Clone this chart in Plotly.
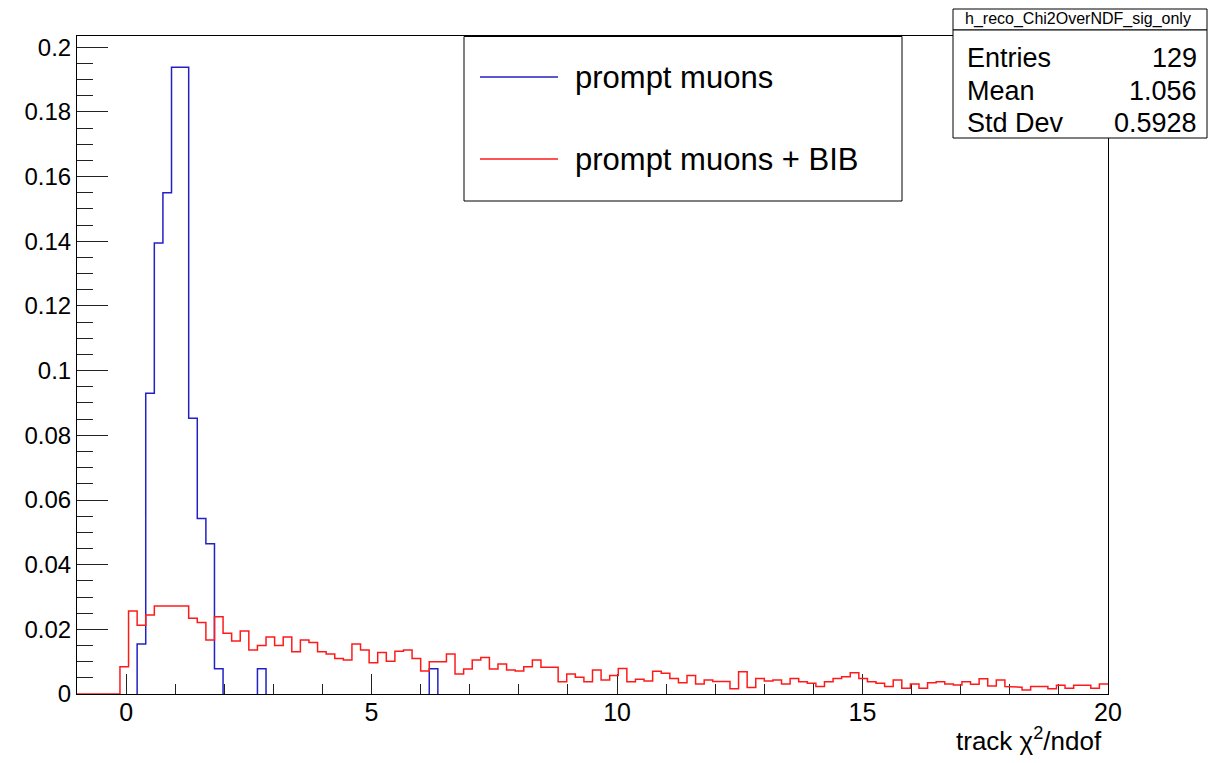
import numpy as np
import plotly.graph_objects as go

# ---------------- data ----------------
x_min, x_max, n_bins = -1.0, 20.0, 120

# prompt muons (normalised), 120 bins from -1 to 20
blue_vals = [
    0, 0, 0, 0, 0, 0, 0, 0.0155, 0.0930, 0.1395,
    0.1550, 0.1938, 0.1938, 0.0853, 0.0543, 0.0465, 0.0078, 0, 0, 0,
    0, 0.0078, 0, 0, 0, 0, 0, 0, 0, 0,
    0, 0, 0, 0, 0, 0, 0, 0, 0, 0,
    0, 0.0078, 0, 0, 0, 0, 0, 0, 0, 0,
    0, 0, 0, 0, 0, 0, 0, 0, 0, 0,
    0, 0, 0, 0, 0, 0, 0, 0, 0, 0,
    0, 0, 0, 0, 0, 0, 0, 0, 0, 0,
    0, 0, 0, 0, 0, 0, 0, 0, 0, 0,
    0, 0, 0, 0, 0, 0, 0, 0, 0, 0,
    0, 0, 0, 0, 0, 0, 0, 0, 0, 0,
    0, 0, 0, 0, 0, 0, 0, 0, 0, 0,
]

# prompt muons + BIB (normalised), 120 bins from -1 to 20
red_vals = [
    0, 0, 0, 0, 0, 0.0084, 0.0257, 0.0213, 0.0244, 0.0272,
    0.0272, 0.0272, 0.0272, 0.0234, 0.0221, 0.0167, 0.0239, 0.0188, 0.0164, 0.0195,
    0.0136, 0.0150, 0.0176, 0.0150, 0.0176, 0.0131, 0.0167, 0.0159, 0.0131, 0.0124,
    0.0110, 0.0105, 0.0155, 0.0136, 0.0097, 0.0128, 0.0101, 0.0132, 0.0136, 0.0110,
    0.0071, 0.0100, 0.0100, 0.0124, 0.0062, 0.0077, 0.0105, 0.0113, 0.0077, 0.0093,
    0.0074, 0.0071, 0.0084, 0.0105, 0.0083, 0.0083, 0.0038, 0.0062, 0.0052, 0.0038,
    0.0074, 0.0043, 0.0057, 0.0079, 0.0038, 0.0046, 0.0040, 0.0070, 0.0064, 0.0048,
    0.0035, 0.0057, 0.0031, 0.0043, 0.0039, 0.0039, 0.0016, 0.0069, 0.0020, 0.0048,
    0.0040, 0.0043, 0.0031, 0.0048, 0.0038, 0.0033, 0.0023, 0.0038, 0.0048, 0.0053,
    0.0066, 0.0048, 0.0038, 0.0033, 0.0023, 0.0043, 0.0018, 0.0031, 0.0018, 0.0035,
    0.0038, 0.0031, 0.0028, 0.0038, 0.0030, 0.0047, 0.0025, 0.0043, 0.0023, 0.0021,
    0.0012, 0.0023, 0.0023, 0.0016, 0.0027, 0.0018, 0.0027, 0.0027, 0.0018, 0.0031,
]

y_max = 0.2035

x_tick_vals = [0, 5, 10, 15, 20]
x_tick_text = ["0", "5", "10", "15", "20"]
y_tick_vals = [0, 0.02, 0.04, 0.06, 0.08, 0.1, 0.12, 0.14, 0.16, 0.18, 0.2]
y_tick_text = ["0", "0.02", "0.04", "0.06", "0.08", "0.1", "0.12", "0.14", "0.16", "0.18", "0.2"]

legend_labels = ["prompt muons", "prompt muons + BIB"]
x_title = "track χ<sup>2</sup>/ndof"

stats_title = "h_reco_Chi2OverNDF_sig_only"
stats_names = ["Entries", "Mean", "Std Dev"]
stats_values = ["129", "1.056", "0.5928"]

BLUE = "#2222c4"
RED = "#ff1a1a"
FONT = "Liberation Sans, Arial, Helvetica, sans-serif"

# ---------------- geometry ----------------
W, H = 1209, 763
L, R, T, B = 77, 1108, 36, 694  # plot area in pixels
PW, PH = R - L, B - T


def px(x):
    return (x - L) / PW


def py(y):
    return (B - y) / PH


edges = np.linspace(x_min, x_max, n_bins + 1)


def outline_full(vals):
    xs, ys = [], []
    for i, v in enumerate(vals):
        xs += [edges[i], edges[i + 1]]
        ys += [v, v]
    return xs, ys


def outline_nonzero(vals):
    xs, ys = [], []
    i = 0
    n = len(vals)
    while i < n:
        if vals[i] == 0:
            i += 1
            continue
        xs.append(edges[i]); ys.append(0)
        while i < n and vals[i] != 0:
            xs += [edges[i], edges[i + 1]]
            ys += [vals[i], vals[i]]
            i += 1
        xs.append(edges[i]); ys.append(0)
        xs.append(None); ys.append(None)
    return xs, ys


fig = go.Figure()

bx, by = outline_nonzero(blue_vals)
fig.add_trace(go.Scatter(x=bx, y=by, mode="lines", name=legend_labels[0],
                         line=dict(color=BLUE, width=1.5), showlegend=False,
                         hoverinfo="skip"))
rx, ry = outline_full(red_vals)
fig.add_trace(go.Scatter(x=rx, y=ry, mode="lines", name=legend_labels[1],
                         line=dict(color=RED, width=1.5), showlegend=False,
                         hoverinfo="skip"))

shapes = []
annotations = []

# legend box
shapes.append(dict(type="rect", xref="paper", yref="paper",
                   x0=px(464), x1=px(902), y0=py(201), y1=py(36.5),
                   line=dict(color="black", width=1), fillcolor="white",
                   layer="above"))
for i, (lab, col, yy) in enumerate(zip(legend_labels, [BLUE, RED], [77, 159])):
    shapes.append(dict(type="line", xref="paper", yref="paper",
                       x0=px(480), x1=px(558), y0=py(yy), y1=py(yy),
                       line=dict(color=col, width=1.5), layer="above"))
    annotations.append(dict(text=lab, xref="paper", yref="paper",
                            x=px(573), y=py(yy), xanchor="left", yanchor="middle",
                            showarrow=False,
                            font=dict(family=FONT, size=31, color="black")))

# stats box
shapes.append(dict(type="rect", xref="paper", yref="paper",
                   x0=px(953), x1=px(1207), y0=py(30), y1=py(9),
                   line=dict(color="black", width=1), fillcolor="white",
                   layer="above"))
shapes.append(dict(type="rect", xref="paper", yref="paper",
                   x0=px(953), x1=px(1207), y0=py(138), y1=py(30),
                   line=dict(color="black", width=1), fillcolor="white",
                   layer="above"))
annotations.append(dict(text=stats_title, xref="paper", yref="paper",
                        x=px(1078), y=py(19.5), xanchor="center", yanchor="middle",
                        showarrow=False,
                        font=dict(family=FONT, size=16, color="black")))
for name, val, yy in zip(stats_names, stats_values, [58, 91, 123]):
    annotations.append(dict(text=name, xref="paper", yref="paper",
                            x=px(965), y=py(yy), xanchor="left", yanchor="middle",
                            showarrow=False,
                            font=dict(family=FONT, size=27, color="black")))
    annotations.append(dict(text=val, xref="paper", yref="paper",
                            x=px(1199), y=py(yy), xanchor="right", yanchor="middle",
                            showarrow=False,
                            font=dict(family=FONT, size=27, color="black")))

# x axis title
annotations.append(dict(text=x_title, xref="paper", yref="paper",
                        x=px(1104), y=py(739), xanchor="right", yanchor="middle",
                        showarrow=False,
                        font=dict(family=FONT, size=26, color="black")))

fig.update_layout(
    width=W, height=H,
    margin=dict(l=L, r=W - R, t=T, b=H - B, pad=0),
    paper_bgcolor="white", plot_bgcolor="white",
    font=dict(family=FONT, color="black"),
    shapes=shapes, annotations=annotations,
    showlegend=False,
)

fig.update_xaxes(
    range=[x_min, x_max], showgrid=False, zeroline=False,
    showline=True, linecolor="black", linewidth=1, mirror=True,
    ticks="inside", ticklen=20, tickcolor="#222222", tickwidth=1.2,
    tickvals=x_tick_vals, ticktext=x_tick_text,
    tickfont=dict(family=FONT, size=25, color="black"),
    ticklabelstandoff=-4,
    minor=dict(ticks="inside", dtick=1, ticklen=10, tickcolor="#222222", tickwidth=1.2, showgrid=False),
    layer="below traces",
)
fig.update_yaxes(
    range=[0, y_max], showgrid=False, zeroline=False,
    showline=True, linecolor="black", linewidth=1, mirror=True,
    ticks="inside", ticklen=31, tickcolor="#222222", tickwidth=1.2,
    tickvals=y_tick_vals, ticktext=y_tick_text,
    tickfont=dict(family=FONT, size=24, color="black"),
    minor=dict(ticks="inside", dtick=0.005, ticklen=16, tickcolor="#222222", tickwidth=1.2, showgrid=False),
    layer="below traces",
)

fig.write_html("out.html")
